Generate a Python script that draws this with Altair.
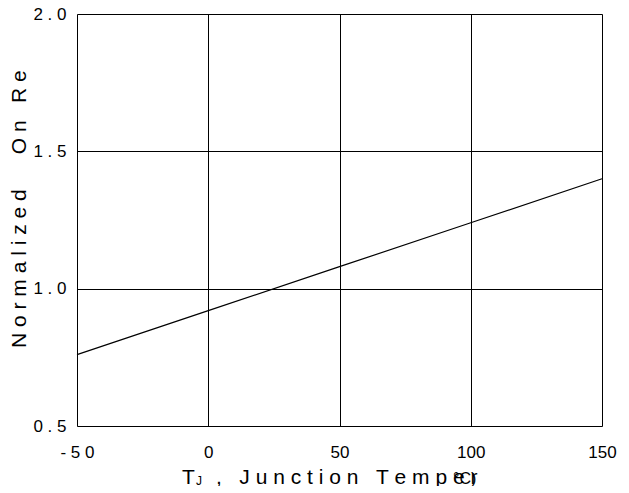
import altair as alt
import pandas as pd

temps = [-50, 0, 50, 100, 150]
ron = [0.76, 0.92, 1.08, 1.24, 1.40]
x_ticks = [-50, 0, 50, 100, 150]
x_tick_labels = ["- 5 0", "0", "50", "100", "150"]
y_ticks = [0.5, 1.0, 1.5, 2.0]
y_tick_labels = ["0 . 5", "1 . 0", "1 . 5", "2 . 0"]
NB = "\u00a0"
y_title = NB.join("Normalized") + NB * 6 + "O" + NB + "n" + NB * 3 + "R" + NB + "e"
x_title_t = "T"
x_title_sub = "J"
x_title_rest = "," + NB * 3 + NB.join("Junction") + NB * 3 + NB.join("Temper")
x_title_unit = "°C)"

df = pd.DataFrame({"T": temps, "R": ron})

FONT = "Liberation Sans"

def label_expr(vals, labs):
    parts = " : ".join(f"datum.value == {v} ? '{l}'" for v, l in zip(vals, labs))
    return parts + " : ''"

xenc = alt.X("T:Q", scale=alt.Scale(domain=[-50, 150], nice=False, zero=False),
             axis=alt.Axis(values=x_ticks, labelExpr=label_expr(x_ticks, x_tick_labels),
                           title=None, grid=True, gridColor="black", gridOpacity=1, gridWidth=1,
                           domain=False, ticks=False, labelPadding=18, labelFont=FONT,
                           labelFontSize=17, labelColor="black", labelFlush=False))
yenc = alt.Y("R:Q", scale=alt.Scale(domain=[0.5, 2.0], nice=False, zero=False),
             axis=alt.Axis(values=y_ticks, labelExpr=label_expr(y_ticks, y_tick_labels),
                           title=None, grid=True, gridColor="black", gridOpacity=1, gridWidth=1,
                           domain=False, ticks=False, labelPadding=11, labelFont=FONT,
                           labelFontSize=17, labelColor="black", labelFlush=False))

line = alt.Chart(df).mark_line(color="black", strokeWidth=1.2).encode(x=xenc, y=yenc)

ytitle = alt.Chart(pd.DataFrame({"t": [y_title]})).mark_text(
    angle=270, font=FONT, fontSize=21, color="black", align="left", baseline="middle"
).encode(text="t:N", x=alt.value(-57), y=alt.value(334))

xt1 = alt.Chart(pd.DataFrame({"t": [x_title_t]})).mark_text(
    font=FONT, fontSize=21, color="black", align="left", baseline="alphabetic"
).encode(text="t:N", x=alt.value(105), y=alt.value(470))
xt2 = alt.Chart(pd.DataFrame({"t": [x_title_sub]})).mark_text(
    font=FONT, fontSize=12, color="black", align="left", baseline="alphabetic"
).encode(text="t:N", x=alt.value(119), y=alt.value(471))
xt3 = alt.Chart(pd.DataFrame({"t": [x_title_rest]})).mark_text(
    font=FONT, fontSize=21, color="black", align="left", baseline="alphabetic"
).encode(text="t:N", x=alt.value(139), y=alt.value(470))
xt4 = alt.Chart(pd.DataFrame({"t": [x_title_unit]})).mark_text(
    font=FONT, fontSize=16, color="black", align="left", baseline="alphabetic"
).encode(text="t:N", x=alt.value(376), y=alt.value(470))

chart = alt.layer(line, ytitle, xt1, xt2, xt3, xt4).properties(
    width=525, height=412,
    autosize=alt.AutoSizeParams(type="none"),
    padding={"left": 69, "top": 6, "right": 18, "bottom": 60},
).configure_view(stroke="black", strokeWidth=2).configure(background="white")

chart.save("out.html", embed_options={"renderer": "svg", "actions": False})
